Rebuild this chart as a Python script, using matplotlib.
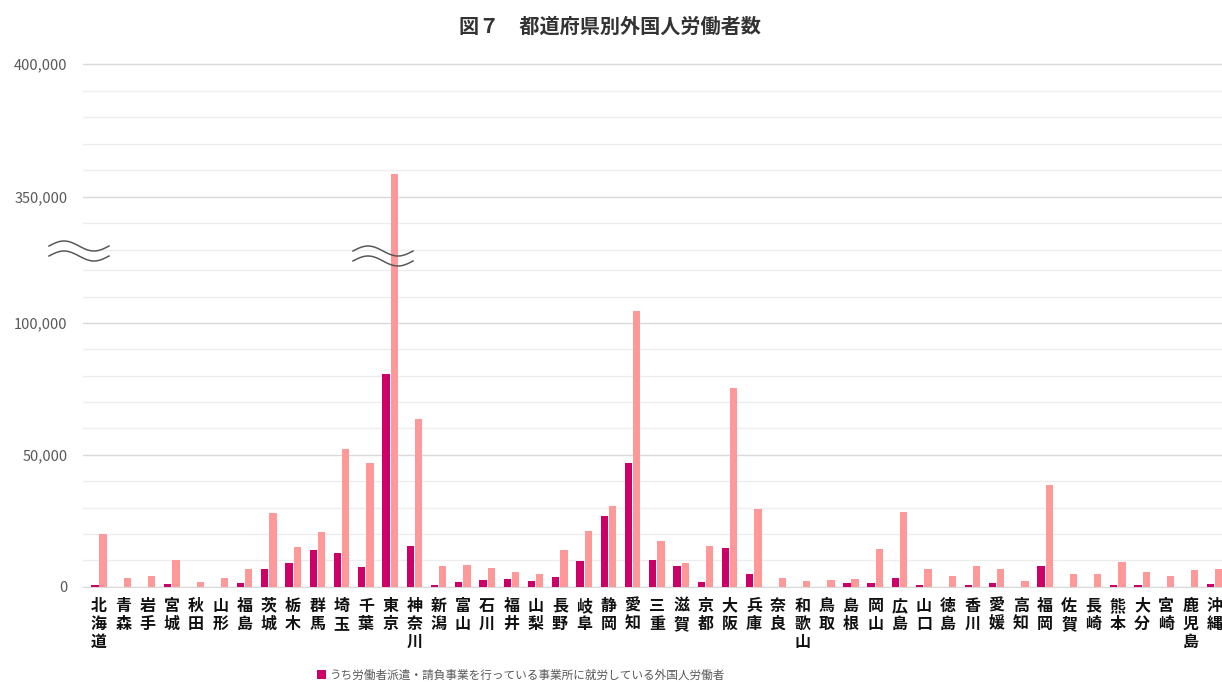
import numpy as np
import matplotlib
matplotlib.use("Agg")
import matplotlib.pyplot as plt
from matplotlib.ticker import MultipleLocator, FuncFormatter

plt.rcParams['font.family'] = ['Noto Sans CJK JP', 'DejaVu Sans']

# Data
prefectures = ['北海道', '青森', '岩手', '宮城', '秋田', '山形', '福島', '茨城', '栃木', '群馬',
               '埼玉', '千葉', '東京', '神奈川', '新潟', '富山', '石川', '福井', '山梨', '長野',
               '岐阜', '静岡', '愛知', '三重', '滋賀', '京都', '大阪', '兵庫', '奈良', '和歌山',
               '鳥取', '島根', '岡山', '広島', '山口', '徳島', '香川', '愛媛', '高知', '福岡',
               '佐賀', '長崎', '熊本', '大分', '宮崎', '鹿児島', '沖縄']
dispatch_workers = [500, 0, 0, 1100, 0, 0, 1400, 6900, 8800, 13900,
                    12900, 7600, 80500, 15400, 750, 1900, 2650, 2800, 2100, 3800,
                    9700, 26800, 46900, 10100, 7800, 1900, 14500, 5000, 0, 0,
                    0, 1250, 1500, 3400, 600, 0, 600, 1250, 0, 7800,
                    0, 0, 600, 600, 0, 0, 1000]
total_workers = [20100, 3150, 4000, 10100, 1900, 3400, 6900, 28100, 15000, 20900,
                 52200, 46900, 358500, 63700, 7800, 8200, 7200, 5700, 4700, 14100,
                 21300, 30600, 104700, 17300, 9100, 15400, 75300, 29300, 3400, 2100,
                 2650, 2900, 14400, 28300, 6900, 4000, 7800, 6900, 2100, 38400,
                 4700, 4900, 9500, 5700, 4000, 6300, 6900]
legend_label = 'うち労働者派遣・請負事業を行っている事業所に就労している外国人労働者'
title = '図７　都道府県別外国人労働者数'

MAGENTA = '#CC0066'
PINK = '#FF9999'
GREY = '#595959'

W, H = 1222, 682
fig = plt.figure(figsize=(W / 100, H / 100), dpi=100)


def rect(x0, y0, x1, y1):
    return [x0 / W, 1 - y1 / H, (x1 - x0) / W, (y1 - y0) / H]


ax_top = fig.add_axes(rect(83, 60, 1227, 258))
ax_bot = fig.add_axes(rect(83, 258, 1227, 586.7))

x = np.arange(len(prefectures))
bw = 0.30
for ax in (ax_top, ax_bot):
    ax.bar(x - 0.17, dispatch_workers, bw, color=MAGENTA, zorder=3)
    ax.bar(x + 0.17, total_workers, bw, color=PINK, zorder=3)
    ax.set_xlim(-0.66, 46.5)
    for s in ax.spines.values():
        s.set_visible(False)
    ax.yaxis.set_major_locator(MultipleLocator(50000))
    ax.yaxis.set_minor_locator(MultipleLocator(10000))
    ax.yaxis.set_major_formatter(FuncFormatter(lambda v, p: f'{int(v):,}'))
    ax.grid(which='major', axis='y', color='#D9D9D9', lw=1.0, zorder=0)
    ax.grid(which='minor', axis='y', color='#EDEDED', lw=1.0, zorder=0)
    ax.tick_params(axis='y', which='both', length=0, pad=11, labelsize=10.5, labelcolor=GREY)
    ax.set_axisbelow(True)

ax_top.set_ylim(326850, 401620)
ax_bot.set_ylim(0, 124650)
ax_top.set_xticks([])
ax_bot.spines['bottom'].set_visible(True)
ax_bot.spines['bottom'].set_color('#D9D9D9')
ax_bot.set_xticks(x, ['\n'.join(p) for p in prefectures])
ax_bot.tick_params(axis='x', length=0, pad=8, labelsize=11.5, labelcolor='#111111')
for lab in ax_bot.get_xticklabels():
    lab.set_linespacing(1.15)
    lab.set_fontweight('bold')

# break marks
ov = fig.add_axes([0, 0, 1, 1], facecolor='none')
ov.set_xlim(0, W)
ov.set_ylim(H, 0)
ov.axis('off')
t = np.linspace(0, 1, 80)
for x0, yc in ((49, 246), (353, 251)):
    for dy in (0, 10):
        ov.plot(x0 + 60 * t, yc + dy - 5 * np.sin(2 * np.pi * t), color=GREY, lw=1.1)

fig.legend([ax_bot.containers[0]], [legend_label], loc='center',
           bbox_to_anchor=(521 / W, 1 - 675 / H), frameon=False, fontsize=8.4,
           handlelength=0.7, handleheight=0.7, handletextpad=0.3, labelcolor=GREY)

fig.text(610 / W, 1 - 26 / H, title, ha='center', va='center', fontsize=14.5,
         fontweight='bold', color='#333333')

fig.savefig('out.png', dpi=100)
